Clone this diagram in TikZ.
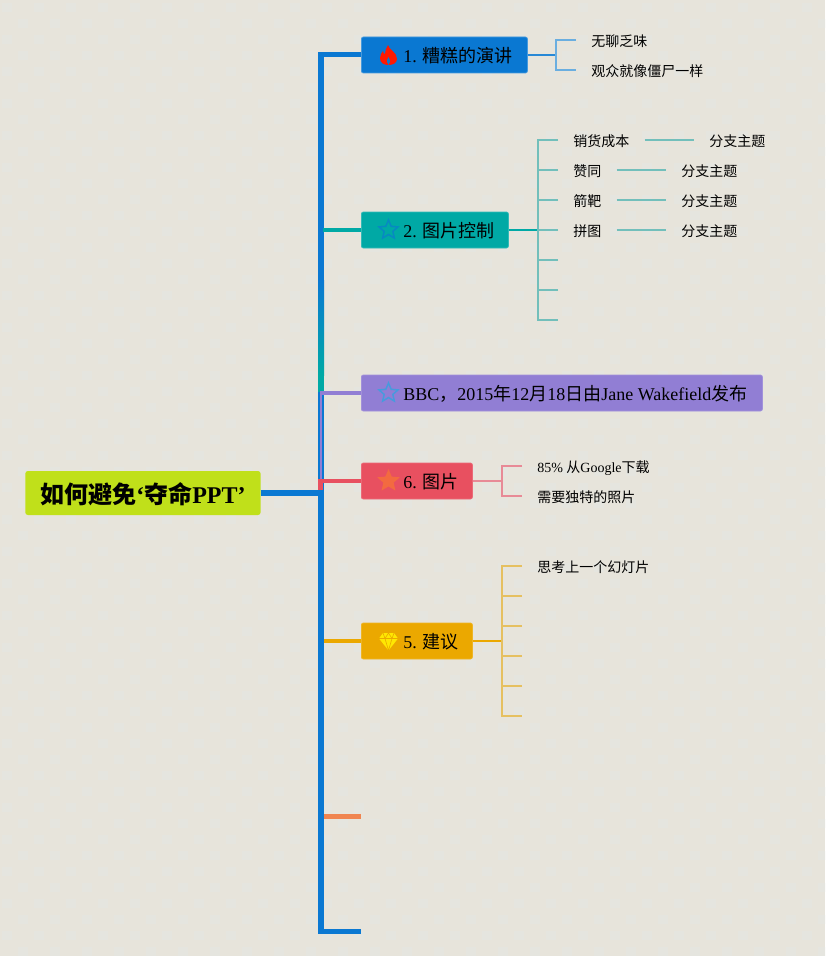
\documentclass[tikz,border=0pt]{standalone}
\usepackage{fontspec}
\setmainfont{Liberation Serif}
\newfontfamily\cjk{Noto Sans CJK SC}
\usetikzlibrary{shapes.geometric}
\definecolor{bgc}{HTML}{E7E4DB}
\definecolor{bgd}{HTML}{E5E5DF}
\definecolor{cblue}{HTML}{0A78D2}
\definecolor{cteal}{HTML}{00A9A5}
\definecolor{cpurple}{HTML}{917ED4}
\definecolor{cred}{HTML}{E85060}
\definecolor{corange}{HTML}{EBA800}
\definecolor{ccoral}{HTML}{F08550}
\definecolor{clime}{HTML}{C0E01A}
\definecolor{lblue}{HTML}{6AAEE0}
\definecolor{lteal}{HTML}{72BFBB}
\definecolor{lred}{HTML}{E88A96}
\definecolor{lorange}{HTML}{E6C060}
\tikzset{
  x=0.75pt,y=-0.75pt,
  topicbox/.style={anchor=west,rounded corners=1.5pt,inner xsep=0pt,inner ysep=0pt,minimum height=27pt,font=\fontsize{13.5pt}{16pt}\selectfont,text=black,line width=0.6pt,text height=13pt,text depth=1.2pt},
  leaftext/.style={anchor=west,inner xsep=11.25pt,inner ysep=0pt,font=\fontsize{10.5pt}{12pt}\selectfont,text height=10pt,text depth=0.5pt,text=black},
  trunk/.style={cblue,line width=4.5pt},
  link/.style={line width=1.4pt},
  twig/.style={line width=1.1pt},
  startop/.style={star,star points=5,star point ratio=2.2,minimum size=15pt,inner sep=0pt,line width=1.1pt}
}
\newcommand{\tbox}[2]{\makebox[#1][l]{\hspace*{31.5pt}#2}}
\begin{document}
\begin{tikzpicture}
\useasboundingbox (0,0) rectangle (825,956);
\clip (0,0) rectangle (825,956);
\fill[bgc] (0,0) rectangle (825,956);
\foreach \i in {0,...,25}{\foreach \j in {0,...,29}{
  \fill[bgd] (7+32*\i-5,7+32*\j-4) rectangle +(10,9);
  \fill[bgd] (23+32*\i-5,23+32*\j-4) rectangle +(10,9);
}}
% root and topics
\node[anchor=west,fill=clime,rounded corners=2pt,minimum width=176.5pt,minimum height=33pt,inner sep=0pt,font=\fontsize{18pt}{22pt}\selectfont\bfseries,text height=17.5pt,text depth=1.8pt] (root) at (25,493) {{\cjk 如何避免}‘{\cjk 夺命}PPT’};
\coordinate (tj) at (321,493);
\coordinate (t0) at (321,52.5);
\coordinate (tj1) at (321,55);
\coordinate (tend) at (361,931);
\coordinate (tcoral) at (361,816);
\node[topicbox,fill=cblue,draw=cblue!75!white,minimum width=124.5pt] (t1) at (361,55) {\tbox{124.5pt}{1. {\cjk 糟糕的演讲}}};
\node[topicbox,fill=cteal,draw=cteal!80!white,minimum width=110.25pt] (t2) at (361,230) {\tbox{110.25pt}{2. {\cjk 图片控制}}};
\node[topicbox,fill=cpurple,draw=cpurple!85!white,minimum width=300.75pt] (t3) at (361,393) {\tbox{300.75pt}{BBC{\cjk ，}2015{\cjk 年}12{\cjk 月}18{\cjk 日由}Jane Wakefield{\cjk 发布}}};
\node[topicbox,fill=cred,draw=cred!85!white,minimum width=83.25pt] (t6) at (361,481) {\tbox{83.25pt}{6. {\cjk 图片}}};
\node[topicbox,fill=corange,draw=corange!85!white,minimum width=83.25pt] (t5) at (361,641) {\tbox{83.25pt}{5. {\cjk 建议}}};
% trunk
\draw[trunk] (t0) -- (321,933.5);
\draw[trunk] (root.east) -- (tj);
\draw[cblue,line width=3.75pt] (tj1) -- (t1.west);
\draw[cblue,line width=3.75pt] (321,931) -- (tend);
\shade[top color=cblue,bottom color=cteal] (318,280) rectangle (324,375);
\fill[cteal] (318,375) rectangle (324,392);
\draw[cteal,line width=3pt] (323,230) -- (t2.west);
\draw[cpurple,line width=2.2pt] (321,392) -- (321,481);
\draw[cpurple,line width=3pt] (320,393) -- (t3.west);
\draw[cred,line width=3.6pt] (318,481) -- (t6.west);
\fill[cred] (318,479) rectangle (323,490);
\draw[corange,line width=3pt] (324,641) -- (t5.west);
\draw[ccoral,line width=3.75pt] (324,816) -- (tcoral);
\draw[trunk] (root.east) -- (tj);
% icons
\fill[red!80!orange] (388,45) .. controls (389,50) and (397,52) .. (397,59) .. controls (397,63) and (393,65) .. (388.5,65) .. controls (384,65) and (380,63) .. (380,58) .. controls (380,55) and (382,52) .. (383,51) .. controls (383,53) and (384,54) .. (385,54) .. controls (385,51) and (386,48) .. (388,45) -- cycle;
\fill[cblue] (388.5,57) .. controls (390,59) and (391,61) .. (388.5,65) .. controls (386,61) and (387,59) .. (388.5,57) -- cycle;
\node[startop,draw=cteal!35!cblue] (i2) at (388.5,230) {};
\node[startop,draw=cblue!75!white] (i3) at (388.5,393) {};
\node[startop,fill=ccoral!80!red,draw=ccoral!80!red] (i6) at (388.5,481) {};
\fill[yellow!90!orange] (383,633) -- (394,633) -- (398,638.5) -- (388.5,650.5) -- (379,638.5) -- cycle;
\draw[corange,line width=0.45pt] (379,638.5) -- (398,638.5) (383,633) -- (385,638.5) -- (388.5,650.5) -- (392,638.5) -- (394,633) (385,638.5) -- (388.5,633) -- (392,638.5);
% branch 1
\coordinate (j1) at (556,55);
\draw[cblue!70!lblue,link] (t1.east) -- (j1);
\node[leaftext] (a1) at (576,40) {\cjk 无聊乏味};
\node[leaftext] (a2) at (576,70) {\cjk 观众就像僵尸一样};
\draw[lblue,twig] (a1.west) -- (556,40) -- (556,70) -- (a2.west);
% branch 2
\coordinate (j2) at (538,230);
\draw[cteal,link] (t2.east) -- (j2);
\node[leaftext] (b1) at (558,140) {\cjk 销货成本};
\node[leaftext] (b2) at (558,170) {\cjk 赞同};
\node[leaftext] (b3) at (558,200) {\cjk 箭靶};
\node[leaftext] (b4) at (558,230) {\cjk 拼图};
\coordinate (b5) at (558,260);
\coordinate (b6) at (558,290);
\coordinate (b7) at (558,320);
\node[leaftext] (c1) at (694,140) {\cjk 分支主题};
\node[leaftext] (c2) at (666,170) {\cjk 分支主题};
\node[leaftext] (c3) at (666,200) {\cjk 分支主题};
\node[leaftext] (c4) at (666,230) {\cjk 分支主题};
\draw[lteal,twig] (b1.west) -- (538,140) -- (538,320) -- (b7);
\foreach \n/\y in {b2/170,b3/200,b4/230}{\draw[lteal,twig] (\n.west) -- (538,\y);}
\foreach \n/\y in {b5/260,b6/290}{\draw[lteal,twig] (\n) -- (538,\y);}
\foreach \n in {1,2,3,4}{\draw[lteal,twig] (b\n.east) -- (c\n.west);}
% branch 6
\coordinate (j6) at (502,481);
\draw[lred,link] (t6.east) -- (j6);
\node[leaftext] (d1) at (522,466) {85\% {\cjk 从}Google{\cjk 下载}};
\node[leaftext] (d2) at (522,496) {\cjk 需要独特的照片};
\draw[lred,twig] (d1.west) -- (502,466) -- (502,496) -- (d2.west);
% branch 5
\coordinate (j5) at (502,641);
\draw[corange,link] (t5.east) -- (j5);
\node[leaftext] (e1) at (522,566) {\cjk 思考上一个幻灯片};
\coordinate (e2) at (522,596);
\coordinate (e3) at (522,626);
\coordinate (e4) at (522,656);
\coordinate (e5) at (522,686);
\coordinate (e6) at (522,716);
\draw[lorange,twig] (e1.west) -- (502,566) -- (502,716) -- (e6);
\foreach \n/\y in {e2/596,e3/626,e4/656,e5/686}{\draw[lorange,twig] (\n) -- (502,\y);}
\end{tikzpicture}
\end{document}
